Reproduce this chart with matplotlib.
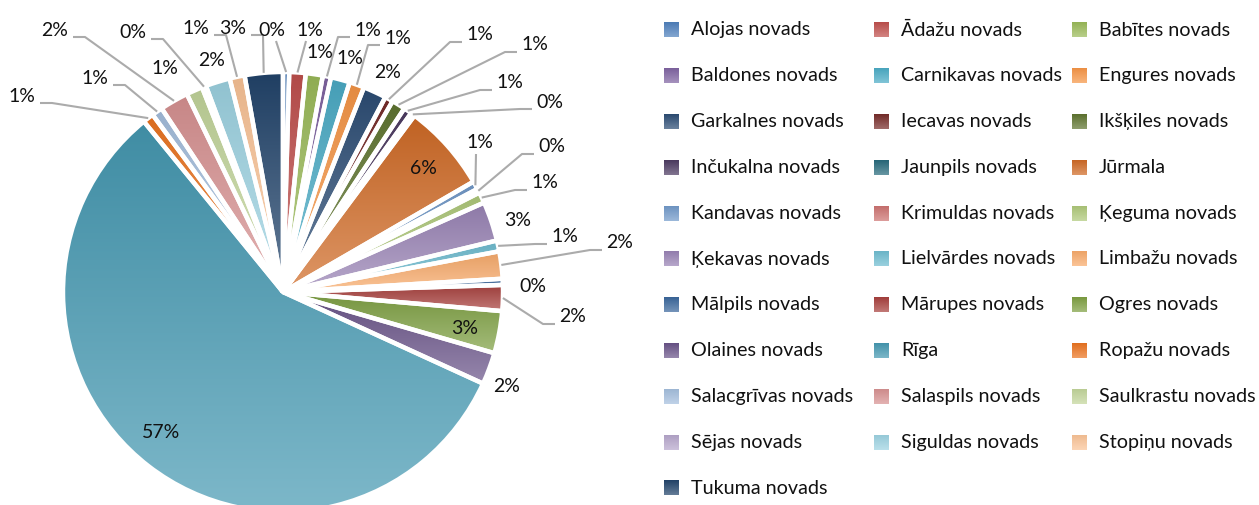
import numpy as np
import matplotlib
matplotlib.use("Agg")
import matplotlib.pyplot as plt
from matplotlib.colors import LinearSegmentedColormap, to_rgb

# ---------------- data ----------------
regions = ["Alojas novads", "Ādažu novads", "Babītes novads", "Baldones novads",
           "Carnikavas novads", "Engures novads", "Garkalnes novads", "Iecavas novads",
           "Ikšķiles novads", "Inčukalna novads", "Jaunpils novads", "Jūrmala",
           "Kandavas novads", "Krimuldas novads", "Ķeguma novads", "Ķekavas novads",
           "Lielvārdes novads", "Limbažu novads", "Mālpils novads", "Mārupes novads",
           "Ogres novads", "Olaines novads", "Rīga", "Ropažu novads",
           "Salacgrīvas novads", "Salaspils novads", "Saulkrastu novads", "Sējas novads",
           "Siguldas novads", "Stopiņu novads", "Tukuma novads"]
shares = [0.45, 1.2, 1.25, 0.6,
          1.4, 1.1, 1.7, 0.6,
          1.0, 0.6, 0.3, 6.45,
          0.6, 0.3, 0.8, 2.9,
          0.8, 2.0, 0.45, 1.9,
          3.1, 2.35, 57.3, 0.8,
          0.8, 2.1, 1.2, 0.3,
          1.8, 1.1, 2.8]

# ---------------- style ----------------
colors = ["#4F81BD", "#C0504D", "#9BBB59", "#8064A2", "#4BACC6", "#F79646",
          "#2C4D75", "#772C2A", "#5F7530", "#4D3B62", "#276A7C", "#D06A25",
          "#729ACA", "#CD7371", "#AFC97A", "#9983B5", "#6FBDD1", "#F9AB6B",
          "#3A679C", "#A8403D", "#7EA042", "#6A5489", "#4599B2", "#EC7420",
          "#A5BFDE", "#D89292", "#C3D69B", "#B7A7CC", "#9DD3E2", "#FBC497",
          "#22446B"]

# label positions in image pixels (x, y from top) and leader flags
label_pos = [(272, 30), (310, 30), (320, 53), (368, 30),
             (350, 58), (398, 38), (388, 72), (480, 35),
             (535, 45), (510, 83), (550, 102), (423, 168),
             (480, 143), (552, 147), (545, 183), (518, 220),
             (565, 237), (620, 243), (533, 286), (573, 317),
             (465, 328), (507, 387), (161, 432), (22, 96),
             (95, 78), (55, 30), (165, 68), (133, 32),
             (212, 60), (196, 28), (233, 28)]
leader = [1, 1, 0, 1,
          0, 1, 0, 1,
          1, 1, 1, 0,
          1, 1, 1, 0,
          1, 1, 0, 1,
          0, 0, 0, 1,
          1, 1, 0, 1,
          0, 1, 1]

W, H = 1259, 505
CX, CY, R = 283, 292, 220
FONT = "Lato"
plt.rcParams["font.family"] = [FONT, "DejaVu Sans"]

fig = plt.figure(figsize=(W / 100, H / 100), dpi=100)
ax = fig.add_axes([0, 0, 1, 1])


def blend(c, other, t):
    c = np.array(to_rgb(c))
    o = np.array(to_rgb(other))
    return tuple(c * (1 - t) + o * t)


wedges, _ = ax.pie(shares, startangle=90, counterclock=False,
                   center=(CX, H - CY), radius=R,
                   wedgeprops=dict(edgecolor="white", linewidth=3.2, facecolor="none"))

grad = np.linspace(0, 1, 256).reshape(-1, 1)
for w, c in zip(wedges, colors):
    w.set_zorder(3)
    ext = w.get_path().get_extents()
    cmap = LinearSegmentedColormap.from_list("g", [blend(c, "black", 0.08),
                                                   blend(c, "white", 0.30)])
    im = ax.imshow(grad, extent=[ext.x0, ext.x1, ext.y0, ext.y1], origin="upper",
                   cmap=cmap, aspect="auto", zorder=2, interpolation="bilinear")
    im.set_clip_path(w)

total = sum(shares)
for i, (w, (lx, ly)) in enumerate(zip(wedges, label_pos)):
    pct = 100 * shares[i] / total
    txt = f"{pct:.0f}%"
    ax.text(lx, H - ly, txt, ha="center", va="center", fontsize=14,
            color="#111111", zorder=6)
    if leader[i]:
        mid = np.deg2rad((w.theta1 + w.theta2) / 2)
        wx = CX + R * np.cos(mid)
        wy = CY - R * np.sin(mid)
        dx = wx - lx
        if abs(dx) < 22:
            xs = [lx + (4 if dx > 0 else -4), wx]
            ys = [ly + 11, wy]
        elif dx > 0:
            sx = lx + 18
            xs = [sx, sx + 12, wx]
            ys = [ly + 7, ly + 7, wy]
        else:
            sx = lx - 18
            xs = [sx, sx - 12, wx]
            ys = [ly + 7, ly + 7, wy]
        ax.plot(xs, [H - y for y in ys], color="#ABABAB", lw=1.5, zorder=5,
                solid_capstyle="butt")

# legend (manual, fixed column grid)
col_marker_x = [664, 874, 1072]
row0, row_step = 30, 45.8
msize = 15
for i, (name, c) in enumerate(zip(regions, colors)):
    r, col = divmod(i, 3)
    yc = row0 + r * row_step
    mx = col_marker_x[col]
    ext = (mx, mx + msize, H - yc - msize / 2, H - yc + msize / 2)
    cmap = LinearSegmentedColormap.from_list("g", [blend(c, "black", 0.05),
                                                   blend(c, "white", 0.30)])
    ax.imshow(grad, extent=ext, origin="upper", cmap=cmap, aspect="auto", zorder=2)
    ax.text(mx + 27, H - yc, name, ha="left", va="center", fontsize=14.2,
            color="#111111")

ax.set_xlim(0, W)
ax.set_ylim(0, H)
ax.set_aspect("auto")
ax.set_axis_off()
fig.savefig("out.png", dpi=100)
